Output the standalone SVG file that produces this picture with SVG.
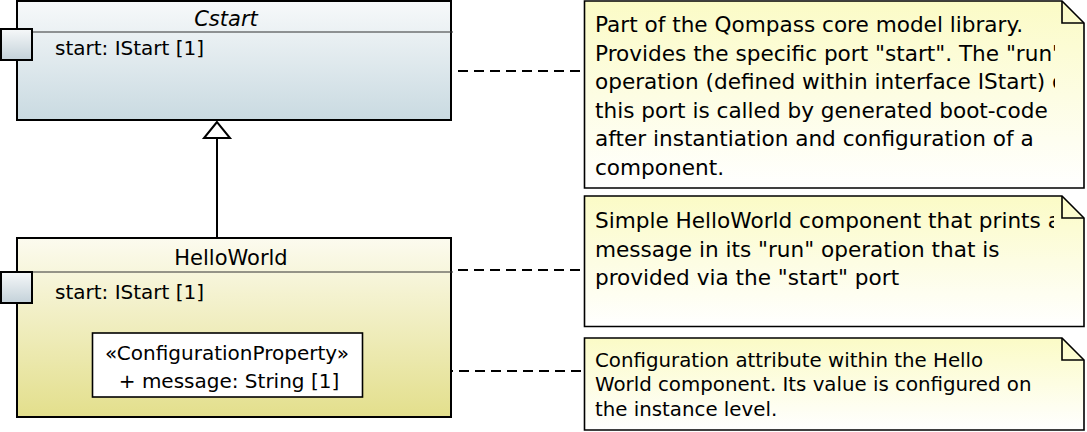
<svg xmlns="http://www.w3.org/2000/svg" width="1087" height="432" viewBox="0 0 1087 432">
<defs>
<linearGradient id="gBlue" x1="0" y1="0" x2="0" y2="1"><stop offset="0" stop-color="#f7f9fa"/><stop offset="1" stop-color="#c9dae1"/></linearGradient>
<linearGradient id="gYel" x1="0" y1="0" x2="0" y2="1"><stop offset="0" stop-color="#fcfbef"/><stop offset="1" stop-color="#e3df8c"/></linearGradient>
<linearGradient id="gNote" x1="0" y1="0" x2="0" y2="1"><stop offset="0" stop-color="#fbfbc6"/><stop offset="1" stop-color="#ffffff"/></linearGradient>
<linearGradient id="gPort" x1="0" y1="0" x2="0" y2="1"><stop offset="0" stop-color="#f6f8f9"/><stop offset="1" stop-color="#c3d1d9"/></linearGradient>
<clipPath id="c1"><rect x="584" y="0" width="471" height="190"/></clipPath>
<clipPath id="c2"><rect x="584" y="195" width="470" height="133"/></clipPath>
<clipPath id="c3"><rect x="584" y="336" width="471" height="95"/></clipPath>
</defs>
<style>
text{font-family:"DejaVu Sans","Liberation Sans",sans-serif;fill:#000}
.t{font-size:20px}
.h{font-size:21px}
.n{font-size:21.6px}
.s{font-size:20px}
.m{font-size:19.8px}
.box{stroke:#000;stroke-width:2}
.port{fill:url(#gPort);stroke:#000;stroke-width:2}
.note{fill:url(#gNote);stroke:#000;stroke-width:1.6}
.dash{fill:none;stroke:#000;stroke-width:2;stroke-dasharray:10,6}
</style>
<g id="connectors">
<line class="dash" x1="458" y1="71" x2="584" y2="71"/>
<line class="dash" x1="458" y1="270" x2="584" y2="270"/>
<line class="dash" x1="363" y1="371" x2="584" y2="371"/>
<line x1="217" y1="138" x2="217" y2="237" stroke="#000" stroke-width="2"/>
<polygon points="217,122 204,138 230,138" fill="#fff" stroke="#000" stroke-width="2"/>
</g>
<g id="Cstart">
<rect class="box" x="17" y="1" width="434" height="119" fill="url(#gBlue)"/>
<line x1="17" y1="32" x2="453" y2="32" stroke="#333" stroke-width="1.2"/>
<text class="h" x="226" y="26" text-anchor="middle" font-style="italic">Cstart</text>
<rect class="port" x="1" y="29" width="31" height="31"/>
<text class="t" x="55" y="55">start: IStart [1]</text>
</g>
<g id="HelloWorld">
<rect class="box" x="17" y="238" width="434" height="179" fill="url(#gYel)"/>
<line x1="17" y1="272" x2="453" y2="272" stroke="#333" stroke-width="1.2"/>
<text class="h" x="231" y="265" text-anchor="middle">HelloWorld</text>
<rect class="port" x="1" y="272" width="31" height="31"/>
<text class="t" x="55" y="299">start: IStart [1]</text>
</g>
<g id="message">
<rect x="92.5" y="333" width="270" height="64" fill="#fff" stroke="#000" stroke-width="1.6"/>
<text class="s" x="227" y="360" text-anchor="middle">«ConfigurationProperty»</text>
<text class="s" x="229" y="388" text-anchor="middle">+ message: String [1]</text>
</g>
<g id="note1">
<path class="note" d="M584.5,1 H1062 L1084,23 V188 H584.5 Z"/>
<path d="M1062,1 V23 H1084" fill="none" stroke="#000" stroke-width="1.6"/>
<g clip-path="url(#c1)">
<text class="n" x="595" y="32">Part of the Qompass core model library.</text>
<text class="n" x="595" y="61">Provides the specific port "start". The "run"</text>
<text class="n" x="595" y="89">operation (defined within interface IStart) of</text>
<text class="n" x="595" y="118">this port is called by generated boot-code</text>
<text class="n" x="595" y="146">after instantiation and configuration of a</text>
<text class="n" x="595" y="175">component.</text>
</g>
</g>
<g id="note2">
<path class="note" d="M584.5,196 H1062 L1084,218 V326.5 H584.5 Z"/>
<path d="M1062,196 V218 H1084" fill="none" stroke="#000" stroke-width="1.6"/>
<g clip-path="url(#c2)">
<text class="n" x="595" y="228">Simple HelloWorld component that prints a</text>
<text class="n" x="595" y="257">message in its "run" operation that is</text>
<text class="n" x="595" y="285">provided via the "start" port</text>
</g>
</g>
<g id="note3">
<path class="note" d="M584.5,338 H1062 L1084,360 V430 H584.5 Z"/>
<path d="M1062,338 V360 H1084" fill="none" stroke="#000" stroke-width="1.6"/>
<g clip-path="url(#c3)">
<text class="m" x="595" y="367">Configuration attribute within the Hello</text>
<text class="m" x="595" y="391">World component. Its value is configured on</text>
<text class="m" x="595" y="416">the instance level.</text>
</g>
</g>
</svg>
